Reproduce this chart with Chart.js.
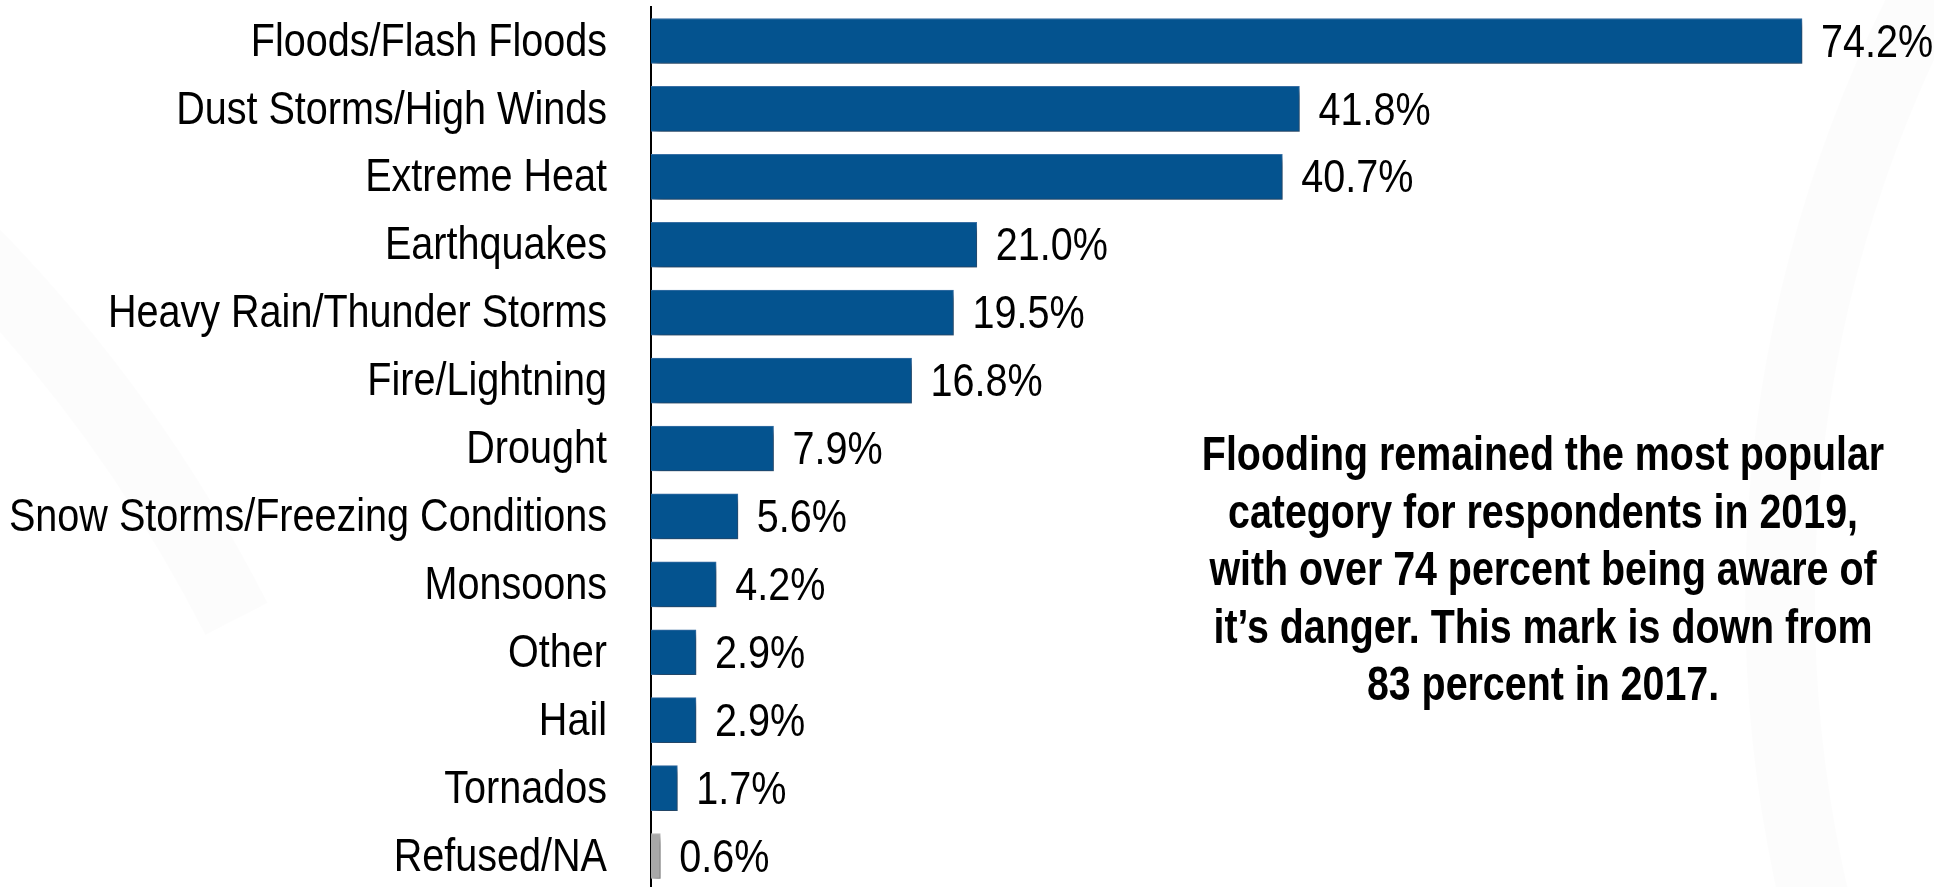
<!DOCTYPE html>
<html>
<head>
<meta charset="utf-8">
<script src="https://cdn.jsdelivr.net/npm/chart.js@4"></script>
<style>
  html, body { margin: 0; padding: 0; background: #fff; overflow: hidden; }
  #wrap { position: relative; width: 1934px; height: 890px; }
</style>
</head>
<body>
<div id="wrap"><canvas id="hazardChart"></canvas></div>
<script>
// Hazard awareness, 2019 (percent of respondents)
const hazards = ['Floods/Flash Floods', 'Dust Storms/High Winds', 'Extreme Heat', 'Earthquakes',
  'Heavy Rain/Thunder Storms', 'Fire/Lightning', 'Drought', 'Snow Storms/Freezing Conditions',
  'Monsoons', 'Other', 'Hail', 'Tornados', 'Refused/NA'];
const shares = [74.2, 41.8, 40.7, 21.0, 19.5, 16.8, 7.9, 5.6, 4.2, 2.9, 2.9, 1.7, 0.6];
const noteLines = [
  'Flooding remained the most popular',
  'category for respondents in 2019,',
  'with over 74 percent being aware of',
  'it\u2019s danger. This mark is down from',
  '83 percent in 2017.'
];

const sans = '"Liberation Sans", Arial, sans-serif';
const barColors = hazards.map(h => h === 'Refused/NA' ? '#a8a8a8' : '#04538f');
const barEdges = hazards.map(h => h === 'Refused/NA' ? '#bcbcbc' : '#3a72a8');

// no narrow font installed, so condense Liberation Sans horizontally
function narrowText(ctx, text, x, y, squeeze) {
  ctx.save();
  ctx.translate(x, y);
  ctx.scale(squeeze, 1);
  ctx.fillText(text, 0, 0);
  ctx.restore();
}

// faint swoosh in the background
const backdrop = {
  id: 'backdrop',
  beforeDraw(chart) {
    const ctx = chart.ctx;
    ctx.save();
    ctx.lineWidth = 70;
    ctx.strokeStyle = 'rgba(0,0,0,0.012)';
    ctx.beginPath();
    ctx.arc(3100, 600, 1320, Math.PI * 0.75, Math.PI * 1.3);
    ctx.stroke();
    ctx.beginPath();
    ctx.arc(-1100, 1300, 1500, Math.PI * 1.62, Math.PI * 1.85);
    ctx.stroke();
    ctx.restore();
  }
};

// drop shadow under the bars
const barShadow = {
  id: 'barShadow',
  beforeDatasetsDraw(chart) {
    const ctx = chart.ctx;
    ctx.save();
    ctx.shadowColor = 'rgba(0,0,0,0.45)';
    ctx.shadowBlur = 7;
    ctx.shadowOffsetX = 4;
    ctx.shadowOffsetY = 5;
  },
  afterDatasetsDraw(chart) {
    chart.ctx.restore();
  }
};

// category labels, value labels and the side note
const textLayer = {
  id: 'textLayer',
  afterDraw(chart) {
    const ctx = chart.ctx;
    const yScale = chart.scales.y;
    const meta = chart.getDatasetMeta(0);
    ctx.save();
    ctx.fillStyle = '#000';
    ctx.font = '46px ' + sans;
    ctx.textBaseline = 'middle';

    ctx.textAlign = 'right';
    hazards.forEach((h, i) => {
      narrowText(ctx, h, chart.chartArea.left - 44, yScale.getPixelForTick(i) + 2, 0.86);
    });

    ctx.textAlign = 'left';
    meta.data.forEach((bar, i) => {
      narrowText(ctx, shares[i].toFixed(1) + '%', bar.x + 19, bar.y + 3, 0.86);
    });

    ctx.font = 'bold 48px ' + sans;
    ctx.textAlign = 'center';
    ctx.textBaseline = 'alphabetic';
    noteLines.forEach((line, i) => {
      narrowText(ctx, line, 1543, 470 + i * 57.5, 0.82);
    });
    ctx.restore();
  }
};

new Chart(document.getElementById('hazardChart'), {
  type: 'bar',
  data: {
    labels: hazards,
    datasets: [{
      data: shares,
      backgroundColor: barColors,
      borderColor: barEdges,
      borderWidth: 1,
      barThickness: 45
    }]
  },
  options: {
    indexAxis: 'y',
    responsive: true,
    maintainAspectRatio: false,
    animation: false,
    layout: { padding: { top: 7, right: 42, bottom: 0, left: 0 } },
    plugins: {
      legend: { display: false },
      tooltip: { enabled: false }
    },
    scales: {
      x: {
        display: false,
        min: 0,
        max: 80
      },
      y: {
        afterFit: scale => { scale.width = 651; },
        grid: { display: false, drawTicks: false },
        border: { display: true, color: '#000', width: 2 },
        ticks: { display: false }
      }
    }
  },
  plugins: [backdrop, barShadow, textLayer]
});
</script>
</body>
</html>
